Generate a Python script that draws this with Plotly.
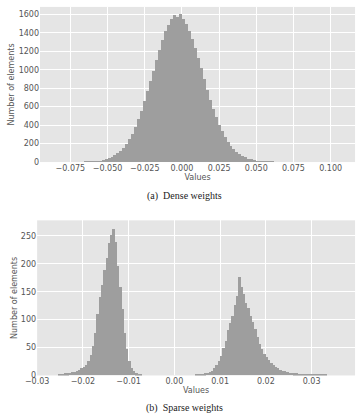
import plotly.graph_objects as go

# ---------------- data ----------------
# Dense weights histogram (bin start, bin width, counts)
dense_start = -0.068
dense_width = 0.002
dense_counts = [1, 2, 3, 4, 7, 10, 15, 21, 30, 40, 54, 72, 94, 122, 155, 197,
                248, 310, 382, 462, 556, 657, 765, 880, 990, 1105, 1215, 1318,
                1420, 1480, 1545, 1590, 1575, 1600, 1552, 1498, 1425, 1335, 1238,
                1128, 1015, 898, 786, 678, 578, 486, 404, 332, 268, 215, 172, 138,
                110, 88, 68, 52, 39, 29, 21, 15, 11, 8, 5, 3, 2, 1, 1]

# Sparse weights histogram: negative cluster and positive cluster
sparse_neg_start = -0.0255
sparse_pos_start = 0.0045
sparse_width = 0.0005
sparse_neg_counts = [1, 2, 2, 3, 3, 4, 5, 6, 8, 10, 12, 15, 19, 26, 36, 52, 76,
                     110, 140, 162, 188, 210, 236, 252, 262, 238, 196, 158, 118,
                     76, 46, 25, 13, 7, 3, 2, 1]
sparse_pos_counts = [1, 1, 2, 2, 3, 4, 6, 8, 12, 18, 25, 35, 48, 62, 80, 94, 106,
                     126, 142, 175, 158, 146, 130, 120, 106, 96, 82, 68, 56, 46, 38,
                     32, 28, 22, 18, 15, 12, 10, 8, 7, 5, 4, 4, 3, 3, 2, 2, 2, 2,
                     1, 1, 1, 1, 1, 1, 1, 1, 1]

dense_xticks = [-0.075, -0.050, -0.025, 0.000, 0.025, 0.050, 0.075, 0.100]
dense_yticks = [0, 200, 400, 600, 800, 1000, 1200, 1400, 1600]
sparse_xticks = [-0.03, -0.02, -0.01, 0.00, 0.01, 0.02, 0.03]
sparse_yticks = [0, 50, 100, 150, 200, 250]

# ---------------- figure ----------------
W, H = 357, 419
BAR = "#9e9e9e"
BG = "#e5e5e5"
TICKC = "#555555"
font_ticks = dict(family="DejaVu Sans", size=8, color=TICKC)
font_title = dict(family="DejaVu Sans", size=8, color=TICKC)

def centers(start, width, n):
    return [start + (i + 0.5) * width for i in range(n)]

fig = go.Figure()
fig.add_trace(go.Bar(x=centers(dense_start, dense_width, len(dense_counts)),
                     y=dense_counts, width=dense_width, marker=dict(color=BAR, line=dict(width=0)),
                     xaxis="x", yaxis="y", showlegend=False, hoverinfo="skip"))
fig.add_trace(go.Bar(x=centers(sparse_neg_start, sparse_width, len(sparse_neg_counts)),
                     y=sparse_neg_counts, width=sparse_width, marker=dict(color=BAR, line=dict(width=0)),
                     xaxis="x2", yaxis="y2", showlegend=False, hoverinfo="skip"))
fig.add_trace(go.Bar(x=centers(sparse_pos_start, sparse_width, len(sparse_pos_counts)),
                     y=sparse_pos_counts, width=sparse_width, marker=dict(color=BAR, line=dict(width=0)),
                     xaxis="x2", yaxis="y2", showlegend=False, hoverinfo="skip"))

def ax(**kw):
    d = dict(showgrid=True, gridcolor="white", gridwidth=1, zeroline=False,
             ticks="", tickfont=font_ticks, showline=False, fixedrange=True)
    d.update(kw)
    return d

fig.update_layout(
    width=W, height=H, margin=dict(l=0, r=0, t=0, b=0),
    paper_bgcolor="white", plot_bgcolor=BG, bargap=0,
    xaxis=ax(domain=[29/W, 355/W], anchor="y", range=[-0.0954, 0.1164],
             tickvals=dense_xticks, tickformat=".3f",
             title=dict(text="Values", font=font_title, standoff=0)),
    yaxis=ax(domain=[1-164/H, 1-7/H], anchor="x", range=[0, 1680],
             tickvals=dense_yticks,
             title=dict(text="Number of elements", font=font_title, standoff=2)),
    xaxis2=ax(domain=[26/W, 355/W], anchor="y2", range=[-0.03, 0.0395],
              tickvals=sparse_xticks, tickformat=".2f",
              title=dict(text="Values", font=font_title, standoff=0)),
    yaxis2=ax(domain=[1-380/H, 1-223/H], anchor="x2", range=[0, 278],
              tickvals=sparse_yticks,
              title=dict(text="Number of elements", font=font_title, standoff=2)),
    annotations=[
        dict(text="(a)  Dense weights", x=178/W, y=1-198/H, xref="paper", yref="paper",
             xanchor="center", yanchor="middle",
             showarrow=False, font=dict(family="Liberation Serif", size=10, color="#222222")),
        dict(text="(b)  Sparse weights", x=178/W, y=1-413/H, xref="paper", yref="paper",
             xanchor="center", yanchor="middle",
             showarrow=False, font=dict(family="Liberation Serif", size=10, color="#222222")),
    ],
)

fig.write_html("out.html")
